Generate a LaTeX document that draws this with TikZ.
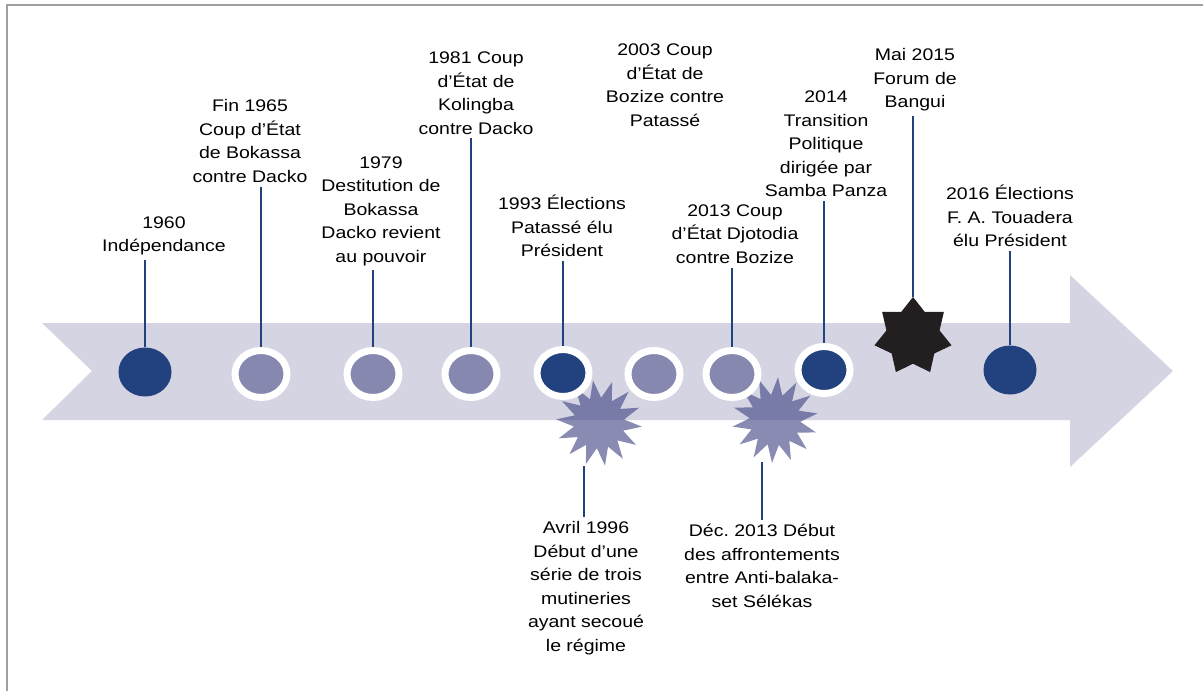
\documentclass[tikz,border=0pt]{standalone}
\usepackage{fontspec}
\setmainfont{Liberation Sans}[FakeStretch=1.16]
\usetikzlibrary{shapes.geometric}
\definecolor{band}{RGB}{212,212,227}
\definecolor{navy}{RGB}{33,66,127}
\definecolor{lilac}{RGB}{135,136,175}
\definecolor{burstc}{RGB}{60,62,128}
\definecolor{framec}{RGB}{160,160,160}
\definecolor{blk}{RGB}{35,31,32}
\frenchspacing
\begin{document}
\begin{tikzpicture}[x=1pt,y=-1pt,
  lbl/.style={align=center,inner sep=4pt,font=\fontsize{16.8}{23.5}\selectfont},
  conn/.style={draw=navy,line width=1.8pt},
  dotplain/.style={ellipse,fill=navy,minimum width=53,minimum height=49,inner sep=0},
  dotring/.style={ellipse,draw=white,line width=7pt,minimum width=52,minimum height=47,inner sep=0},
  burst/.style={star,star points=14,star point ratio=1.7,minimum size=86,inner sep=0,fill=burstc,fill opacity=0.6}]
\useasboundingbox (0,0) rectangle (1203,691);
% frame
\draw[framec,line width=2pt] (7,691) -- (7,5) -- (1203,5);
% band arrow
\fill[band] (42,323) -- (1070,323) -- (1070,275) -- (1173,371) -- (1070,467) -- (1070,420) -- (42,420) -- (92,371) -- cycle;
% bursts
\node[burst,rotate=8] (b1) at (599,423) {};
\node[burst,rotate=-4] (b2) at (775,420) {};
% circles
\node[dotplain] (c1) at (145,372) {};
\node[dotring,fill=lilac] (c2) at (261,374) {};
\node[dotring,fill=lilac] (c3) at (373,374) {};
\node[dotring,fill=lilac] (c4) at (471,374) {};
\node[dotring,fill=navy] (c5) at (563,373) {};
\node[dotring,fill=lilac] (c6) at (654,374) {};
\node[dotring,fill=lilac] (c7) at (732,374) {};
\node[dotring,fill=navy] (c8) at (824,370) {};
\node[star,star points=7,star point ratio=1.45,minimum size=79,inner sep=0,fill=blk] (s9) at (913,336.5) {};
\node[dotplain] (c10) at (1010,370) {};
% labels
\node[lbl] (l1) at (164,236) {1960\\Indépendance};
\node[lbl] (l2) at (250,141) {Fin 1965\\Coup d’État\\de Bokassa\\contre Dacko};
\node[lbl] (l3) at (381,211) {1979\\Destitution de\\Bokassa\\Dacko revient\\au pouvoir};
\node[lbl] (l4) at (476,93) {1981 Coup\\d’État de\\Kolingba\\contre Dacko};
\node[lbl] (l5) at (562,226) {1993 Élections\\Patassé élu\\Président};
\node[lbl] (l6) at (665,85) {2003 Coup\\d’État de\\Bozize contre\\Patassé};
\node[lbl] (l7) at (735,234) {2013 Coup\\d’État Djotodia\\contre Bozize};
\node[lbl] (l8) at (826,144) {2014\\Transition\\Politique\\dirigée par\\Samba Panza};
\node[lbl] (l9) at (915,80) {Mai 2015\\Forum de\\Bangui};
\node[lbl] (l10) at (1010,216) {2016 Élections\\F. A. Touadera\\élu Président};
\node[lbl] (l11) at (586,588) {Avril 1996\\Début d’une\\série de trois\\mutineries\\ayant secoué\\le régime};
\node[lbl] (l12) at (762,566) {Déc. 2013 Début\\des affrontements\\entre Anti-balaka-\\set Sélékas};
% connectors
\draw[conn] (c1.north) -- (c1.north |- l1.south);
\draw[conn] (c2.north) -- (c2.north |- l2.south);
\draw[conn] (c3.north) -- (c3.north |- l3.south);
\draw[conn] (c4.north) -- (c4.north |- l4.south);
\draw[conn] (c5.north) -- (c5.north |- l5.south);
\draw[conn] (c7.north) -- (c7.north |- l7.south);
\draw[conn] (c8.north) -- (c8.north |- l8.south);
\draw[conn] (s9.north) -- (s9.north |- l9.south);
\draw[conn] (c10.north) -- (c10.north |- l10.south);
\draw[conn] (l11.north -| 584,0) -- (584,466);
\draw[conn] (l12.north -| 762,0) -- (762,462);
\end{tikzpicture}
\end{document}
